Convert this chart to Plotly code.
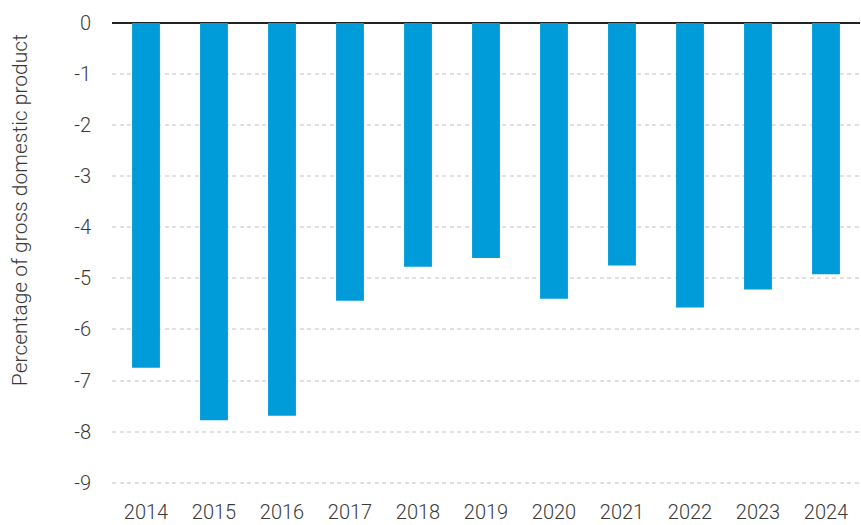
import plotly.graph_objects as go

years = ["2014", "2015", "2016", "2017", "2018", "2019", "2020", "2021", "2022", "2023", "2024"]
balance = [-6.75, -7.78, -7.69, -5.44, -4.77, -4.60, -5.40, -4.75, -5.57, -5.22, -4.92]
y_ticks = [0, -1, -2, -3, -4, -5, -6, -7, -8, -9]
y_title = "Percentage of gross domestic product"

fig = go.Figure()
fig.add_trace(go.Bar(x=years, y=balance, marker=dict(color="#009cda", line=dict(width=0)),
                     hoverinfo="x+y"))

fig.update_layout(
    width=861, height=525,
    margin=dict(l=112, r=1, t=23, b=27, pad=0),
    paper_bgcolor="white", plot_bgcolor="white",
    bargap=0.59,
    showlegend=False,
    font=dict(family="Roboto", size=20, color="#3a3a3a", weight=300),
    xaxis=dict(type="category", showgrid=False, showline=False, zeroline=False,
               ticks="", automargin=False,
               tickfont=dict(size=20, color="#3a3a3a")),
    yaxis=dict(range=[-9.3, 0], tickvals=y_ticks, ticktext=[str(v) for v in y_ticks],
               showgrid=True, gridcolor="#e0e0e0", griddash="4px,3.5px", gridwidth=2,
               zeroline=True, zerolinecolor="#222222", zerolinewidth=2,
               showline=False, ticks="", ticklabelstandoff=20, automargin=False,
               tickfont=dict(size=20, color="#3a3a3a")),
    annotations=[dict(text=y_title, textangle=-90, xref="paper", yref="paper",
                      x=0, y=0.606, xanchor="center", yanchor="middle", xshift=-92,
                      showarrow=False, font=dict(size=21, color="#3a3a3a", weight=300))],
)

fig.write_html("out.html", config={"displayModeBar": False},
               post_script="document.body.style.margin='0';document.body.style.overflow='hidden';")
